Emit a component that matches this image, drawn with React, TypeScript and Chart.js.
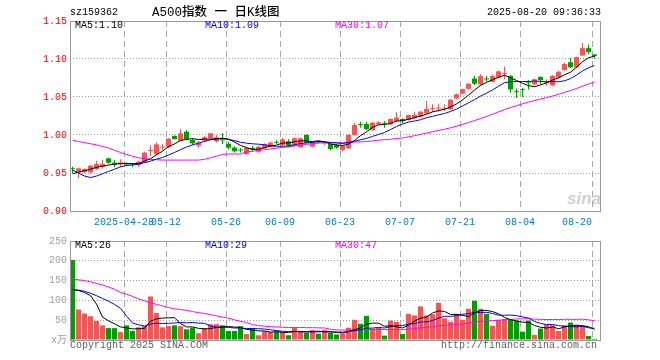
import React, { useEffect, useRef } from "react";
import { Chart, registerables } from "chart.js";

Chart.register(...registerables);

// ---------------- data ----------------
const dates = [
  "2025-04-15", "2025-04-16", "2025-04-17", "2025-04-18", "2025-04-21", "2025-04-22", "2025-04-23", "2025-04-24", "2025-04-25", "2025-04-28", "2025-04-29", "2025-04-30",
  "2025-05-06", "2025-05-07", "2025-05-08", "2025-05-09", "2025-05-12", "2025-05-13", "2025-05-14", "2025-05-15", "2025-05-16", "2025-05-19", "2025-05-20", "2025-05-21", "2025-05-22", "2025-05-23", "2025-05-26", "2025-05-27", "2025-05-28", "2025-05-29", "2025-05-30",
  "2025-06-03", "2025-06-04", "2025-06-05", "2025-06-06", "2025-06-09", "2025-06-10", "2025-06-11", "2025-06-12", "2025-06-13", "2025-06-16", "2025-06-17", "2025-06-18", "2025-06-19", "2025-06-20", "2025-06-23", "2025-06-24", "2025-06-25", "2025-06-26", "2025-06-27", "2025-06-30",
  "2025-07-01", "2025-07-02", "2025-07-03", "2025-07-04", "2025-07-07", "2025-07-08", "2025-07-09", "2025-07-10", "2025-07-11", "2025-07-14", "2025-07-15", "2025-07-16", "2025-07-17", "2025-07-18", "2025-07-21", "2025-07-22", "2025-07-23", "2025-07-24", "2025-07-25", "2025-07-28", "2025-07-29", "2025-07-30", "2025-07-31",
  "2025-08-01", "2025-08-04", "2025-08-05", "2025-08-06", "2025-08-07", "2025-08-08", "2025-08-11", "2025-08-12", "2025-08-13", "2025-08-14", "2025-08-15", "2025-08-18", "2025-08-19", "2025-08-20",
];

const openPrices = [
  0.9556, 0.951, 0.9513, 0.951, 0.9553, 0.9583, 0.9693, 0.9636, 0.9614, 0.9622,
  0.9618, 0.9605, 0.964, 0.979, 0.9746, 0.9834, 0.9842, 0.9987, 0.9925, 1.0044,
  0.9934, 0.986, 0.9925, 0.9956, 0.9917, 0.9945, 0.9885, 0.9835, 0.98, 0.975,
  0.983, 0.978, 0.9825, 0.9855, 0.9902, 0.9868, 0.9917, 0.9859, 0.984, 1.0,
  0.9846, 0.9912, 0.9888, 0.9882, 0.9868, 0.9803, 0.9825, 1.0, 1.0134, 1.0145,
  1.0066, 1.0141, 1.0152, 1.0141, 1.0184, 1.0211, 1.0197, 1.022, 1.0241, 1.0285,
  1.034, 1.0348, 1.034, 1.034, 1.048, 1.0545, 1.0608, 1.0743, 1.0665, 1.0735,
  1.07, 1.0756, 1.0805, 1.0778, 1.0567, 1.0593, 1.0692, 1.0667, 1.0765, 1.0688,
  1.0654, 1.0757, 1.0855, 1.0957, 1.089, 1.1046, 1.1143, 1.106,
];
const closePrices = [
  0.955, 0.9561, 0.9553, 0.9596, 0.9618, 0.9618, 0.9636, 0.961, 0.964, 0.9614,
  0.9612, 0.9649, 0.9768, 0.9797, 0.9877, 0.9842, 0.9952, 0.9947, 1.0022, 0.9947,
  0.989, 0.9899, 0.9969, 1.0022, 0.997, 0.993, 0.9833, 0.9785, 0.9795, 0.983,
  0.981, 0.9846, 0.9882, 0.9899, 0.9898, 0.9943, 0.9859, 0.9957, 0.9957, 0.9895,
  0.9899, 0.9908, 0.9893, 0.9816, 0.9833, 0.986, 1.0, 1.0132, 1.013, 1.0079,
  1.0162, 1.0167, 1.0148, 1.0211, 1.0228, 1.0184, 1.0263, 1.0263, 1.0307, 1.0342,
  1.0345, 1.0353, 1.0346, 1.0465, 1.0535, 1.0603, 1.0675, 1.0675, 1.0775, 1.0731,
  1.0775, 1.0838, 1.0812, 1.06, 1.0563, 1.0589, 1.0688, 1.0734, 1.0721, 1.0692,
  1.0778, 1.0832, 1.0934, 1.089, 1.1024, 1.1143, 1.109, 1.104,
];
const highPrices = [
  0.9583, 0.957, 0.956, 0.961, 0.966, 0.967, 0.97, 0.967, 0.968, 0.964,
  0.963, 0.966, 0.978, 0.9864, 0.99, 0.9877, 0.9956, 0.9996, 1.0079, 1.0066,
  0.9956, 0.992, 0.9991, 1.0031, 1.0, 1.0022, 0.991, 0.985, 0.983, 0.985,
  0.986, 0.986, 0.989, 0.991, 0.993, 0.996, 0.9945, 0.997, 0.9965, 1.001,
  0.991, 0.993, 0.99, 0.989, 0.988, 0.987, 1.001, 1.0162, 1.0175, 1.0175,
  1.017, 1.018, 1.0184, 1.022, 1.0298, 1.022, 1.027, 1.0307, 1.0315, 1.0447,
  1.0404, 1.041, 1.04, 1.047, 1.0545, 1.061, 1.068, 1.078, 1.0798, 1.078,
  1.0797, 1.085, 1.0899, 1.079, 1.0608, 1.0618, 1.0721, 1.0745, 1.077, 1.0734,
  1.079, 1.0845, 1.095, 1.1012, 1.103, 1.121, 1.1192, 1.107,
];
const lowPrices = [
  0.9496, 0.943, 0.95, 0.949, 0.954, 0.956, 0.962, 0.958, 0.958, 0.959,
  0.958, 0.958, 0.963, 0.9724, 0.9737, 0.98, 0.983, 0.994, 0.9915, 0.993,
  0.9868, 0.9833, 0.9912, 0.9947, 0.99, 0.988, 0.981, 0.977, 0.977, 0.974,
  0.978, 0.977, 0.982, 0.984, 0.988, 0.985, 0.984, 0.985, 0.983, 0.989,
  0.984, 0.989, 0.987, 0.98, 0.982, 0.979, 0.982, 0.999, 1.0096, 1.0066,
  1.006, 1.013, 1.0096, 1.013, 1.0175, 1.0154, 1.019, 1.021, 1.023, 1.0275,
  1.0307, 1.0307, 1.032, 1.033, 1.047, 1.0535, 1.06, 1.0658, 1.0655, 1.0702,
  1.069, 1.075, 1.0734, 1.0556, 1.0488, 1.0499, 1.06, 1.0655, 1.0667, 1.065,
  1.064, 1.075, 1.0845, 1.088, 1.088, 1.104, 1.1067, 1.101,
];
// volume, 万
const volumes = [
  202, 77, 67, 60, 48, 37, 30, 30, 20, 37,
  23, 32, 35, 110, 68, 32, 35, 37, 35, 27,
  31, 17, 30, 40, 40, 37, 23, 23, 35, 15,
  30, 12, 22, 20, 22, 20, 12, 32, 20, 18,
  25, 16, 25, 18, 14, 16, 31, 51, 41, 61,
  29, 31, 11, 49, 46, 15, 66, 62, 85, 62,
  65, 94, 55, 46, 65, 51, 79, 99, 79, 66,
  36, 51, 53, 51, 49, 21, 49, 13, 29, 39,
  37, 23, 37, 44, 39, 37, 10, 3,
];

// moving-average values at the start of the window (their earlier history is not in the chart)
const priceMa5Head = [0.949, 0.951, 0.953, 0.955];
const priceMa10Head = [0.954, 0.95, 0.946, 0.944, 0.946, 0.949, 0.952, 0.955, 0.958];
const priceMa30Head = [
  0.993, 0.9915, 0.99, 0.9885, 0.987, 0.985, 0.983, 0.98, 0.977, 0.9745,
  0.972, 0.97, 0.969, 0.968, 0.9675, 0.967, 0.967, 0.967, 0.967, 0.967,
  0.967, 0.967, 0.968, 0.97, 0.972, 0.9745, 0.975, 0.975, 0.975,
];
const volMa5Head = [127, 125, 120, 112];
const volMa10Head = [127, 126, 123, 118, 112, 105, 98, 90, 80];
const volMa30Head = [
  154, 152, 150, 147, 143, 139, 134, 128, 120, 116,
  110, 104, 99, 94, 90, 86, 82, 79, 77, 75,
  72, 69, 67, 64, 61, 58, 55, 51, 47,
];

const tickDates = ["2025-04-28", "2025-05-12", "2025-05-26", "2025-06-09", "2025-06-23", "2025-07-07", "2025-07-21", "2025-08-04", "2025-08-20"];
const tickLabels = ["2025-04-28", "05-12", "05-26", "06-09", "06-23", "07-07", "07-21", "08-04", "08-20"];
const priceTicks = [0.9, 0.95, 1.0, 1.05, 1.1, 1.15];
const volumeTicks = [0, 50, 100, 150, 200, 250];

const priceLegend = ["MA5:1.10", "MA10:1.09", "MA30:1.07"];
const volumeLegend = ["MA5:26", "MA10:29", "MA30:47"];

// ---------------- helpers ----------------
const RED = "#f65555";
const GREEN = "#009e00";
const MONO = "'Liberation Mono', 'DejaVu Sans Mono', 'Noto Sans CJK SC', monospace";

function movingAverage(values: number[], n: number, head: number[]): number[] {
  return values.map((_, i) => {
    if (i < n - 1) return head[i];
    let s = 0;
    for (let k = i - n + 1; k <= i; k++) s += values[k];
    return s / n;
  });
}

const tickIndex = tickDates.map((d) => dates.indexOf(d));
const upDown = closePrices.map((c, i) => (c >= openPrices[i] ? RED : GREEN));

const X_MIN = -2.5 / 6;
const X_MAX = dates.length - 1 + 5.5 / 6;

function xAxis(showLabels: boolean, height: number) {
  return {
    type: "linear",
    min: X_MIN,
    max: X_MAX,
    offset: false,
    afterBuildTicks: (scale: any) => {
      scale.ticks = [{ value: X_MIN }, ...tickIndex.map((i) => ({ value: i - 0.4 }))];
    },
    afterFit: (scale: any) => {
      scale.height = height;
    },
    grid: {
      offset: false,
      drawTicks: false,
      lineWidth: 1,
      color: (ctx: any) => (ctx.index === 0 || ctx.index > tickIndex.length ? "rgba(0,0,0,0)" : "#a8a8a8"),
    },
    border: { display: false, dash: [6, 4] },
    ticks: {
      display: showLabels,
      autoSkip: false,
      maxRotation: 0,
      minRotation: 0,
      align: "inner",
      padding: 5,
      color: "#0a78d0",
      font: { family: MONO, size: 10 },
      callback: (_v: any, idx: number) => (idx === 0 ? "" : tickLabels[idx - 1]),
    },
  };
}

function yAxis(min: number, max: number, ticks: number[], color: string, fmt: (v: number) => string) {
  return {
    type: "linear",
    position: "left",
    min,
    max,
    afterBuildTicks: (scale: any) => {
      scale.ticks = ticks.map((v) => ({ value: v }));
    },
    afterFit: (scale: any) => {
      scale.width = 70;
    },
    grid: { drawTicks: false, color: "#a0a0a0", lineWidth: 1 },
    border: { display: false, dash: [1, 2] },
    ticks: {
      padding: 3,
      color,
      font: { family: MONO, size: 10 },
      callback: (v: any) => fmt(Number(v)),
    },
  };
}

const framePlugin = {
  id: "frame",
  afterDraw(chart: any) {
    const { ctx, chartArea: a } = chart;
    ctx.save();
    ctx.strokeStyle = "#9a9a9a";
    ctx.lineWidth = 1;
    ctx.strokeRect(Math.round(a.left) + 0.5, Math.round(a.top) + 0.5, Math.round(a.right - a.left), Math.round(a.bottom - a.top));
    ctx.restore();
  },
};

function lineDs(values: number[], color: string) {
  return {
    type: "line",
    data: values.map((v, i) => ({ x: i, y: v })),
    borderColor: color,
    borderWidth: 1,
    pointRadius: 0,
    tension: 0,
    order: 0,
  };
}

function Txt(props: { x: number; y: number; color?: string; size?: number; family?: string; children: any; style?: any }) {
  const size = props.size ?? 10;
  return (
    <div
      style={{
        position: "absolute",
        left: props.x,
        top: props.y,
        color: props.color ?? "#000",
        fontFamily: props.family ?? MONO,
        fontSize: size,
        lineHeight: "12px",
        whiteSpace: "pre",
        ...(props.style || {}),
      }}
    >
      {props.children}
    </div>
  );
}

export default function App() {
  const priceRef = useRef<HTMLCanvasElement>(null);
  const volRef = useRef<HTMLCanvasElement>(null);

  useEffect(() => {
    const pMa5 = movingAverage(closePrices, 5, priceMa5Head);
    const pMa10 = movingAverage(closePrices, 10, priceMa10Head);
    const pMa30 = movingAverage(closePrices, 30, priceMa30Head);
    const vMa5 = movingAverage(volumes, 5, volMa5Head);
    const vMa10 = movingAverage(volumes, 10, volMa10Head);
    const vMa30 = movingAverage(volumes, 30, volMa30Head);

    const common = {
      responsive: false,
      maintainAspectRatio: false,
      animation: false,
      events: [],
      plugins: { legend: { display: false }, tooltip: { enabled: false } },
    };

    const priceChart = new Chart(priceRef.current as HTMLCanvasElement, {
      type: "bar",
      data: {
        datasets: [
          lineDs(pMa5, "#000000"),
          lineDs(pMa10, "#0000ff"),
          lineDs(pMa30, "#ff00ff"),
          {
            type: "bar",
            data: openPrices.map((o, i) => ({ x: i, y: [o, closePrices[i]] })),
            backgroundColor: upDown,
            barThickness: 5,
            minBarLength: 1,
            grouped: false,
            inflateAmount: 0,
            borderWidth: 0,
            order: 1,
          },
          {
            type: "bar",
            data: lowPrices.map((l, i) => ({ x: i, y: [l, highPrices[i]] })),
            backgroundColor: upDown,
            barThickness: 1,
            grouped: false,
            inflateAmount: 0,
            borderWidth: 0,
            order: 2,
          },
        ] as any,
      },
      options: {
        ...common,
        layout: { padding: { left: 0, right: 60, top: 21, bottom: 0 } },
        scales: {
          x: xAxis(true, 21),
          y: yAxis(0.9, 1.15, priceTicks, "#ff0000", (v) => v.toFixed(2)),
        },
      } as any,
      plugins: [framePlugin],
    });

    const volChart = new Chart(volRef.current as HTMLCanvasElement, {
      type: "bar",
      data: {
        datasets: [
          lineDs(vMa5, "#000000"),
          lineDs(vMa10, "#0000ff"),
          lineDs(vMa30, "#ff00ff"),
          {
            type: "bar",
            data: volumes.map((v, i) => ({ x: i, y: v })),
            backgroundColor: upDown,
            barThickness: 5,
            grouped: false,
            inflateAmount: 0,
            borderWidth: 0,
            order: 1,
          },
        ] as any,
      },
      options: {
        ...common,
        layout: { padding: { left: 0, right: 60, top: 8, bottom: 0 } },
        scales: {
          x: xAxis(false, 20),
          y: yAxis(0, 250, volumeTicks, "#a0a0a0", (v) => (v === 0 ? "x万" : String(v))),
        },
      } as any,
      plugins: [framePlugin],
    });

    return () => {
      priceChart.destroy();
      volChart.destroy();
    };
  }, []);

  return (
    <div style={{ position: "fixed", left: 0, top: 0, width: 660, height: 360, background: "#fff", overflow: "hidden" }}>
      <canvas ref={priceRef} width={660} height={232} style={{ position: "absolute", left: 0, top: 0, width: 660, height: 232 }} />
      <canvas ref={volRef} width={660} height={128} style={{ position: "absolute", left: 0, top: 232, width: 660, height: 128 }} />

      <Txt x={70} y={7}>sz159362</Txt>
      <Txt x={152} y={5} size={12.5} family="'Liberation Mono', 'Noto Sans CJK SC', monospace" style={{ lineHeight: "16px", fontWeight: 500 }}>
        A500指数 一 日K线图
      </Txt>
      <Txt x={487} y={7}>2025-08-20 09:36:33</Txt>

      <Txt x={75} y={20}>{priceLegend[0]}</Txt>
      <Txt x={205} y={20} color="#0000ff">{priceLegend[1]}</Txt>
      <Txt x={335} y={20} color="#ff00ff">{priceLegend[2]}</Txt>

      <Txt x={75} y={240}>{volumeLegend[0]}</Txt>
      <Txt x={205} y={240} color="#0000ff">{volumeLegend[1]}</Txt>
      <Txt x={335} y={240} color="#ff00ff">{volumeLegend[2]}</Txt>

      <Txt x={70} y={340} color="#606060">Copyright 2025 SINA.COM</Txt>
      <Txt x={441} y={340} color="#606060">http://finance.sina.com.cn</Txt>

      <Txt x={567} y={190} size={17} color="rgba(170,170,170,0.55)" family="'Liberation Sans', Arial, sans-serif" style={{ fontWeight: "bold", fontStyle: "italic", lineHeight: "18px" }}>
        sina
      </Txt>
    </div>
  );
}
